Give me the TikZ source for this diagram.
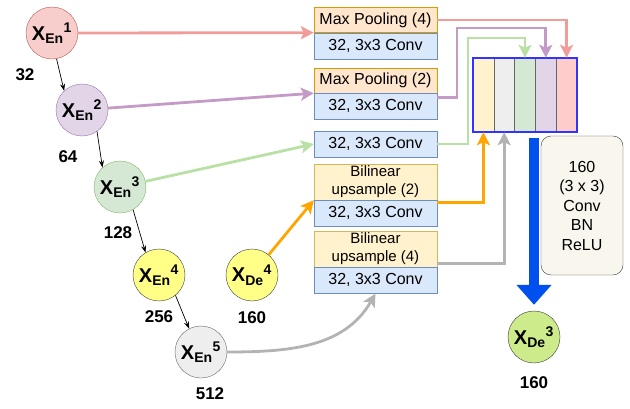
\documentclass[tikz,border=0pt]{standalone}
\usepackage{fontspec}
\setmainfont{Liberation Sans}
\usepackage{tikz}
\usetikzlibrary{arrows.meta,positioning}

\definecolor{pinkfill}{HTML}{F8CECC}
\definecolor{pinkdraw}{HTML}{B85450}
\definecolor{pinkline}{HTML}{F19C99}
\definecolor{purplefill}{HTML}{E1D5E7}
\definecolor{purpledraw}{HTML}{9673A6}
\definecolor{purpleline}{HTML}{C39BC6}
\definecolor{greenfill}{HTML}{D5E8D4}
\definecolor{greendraw}{HTML}{82B366}
\definecolor{greenline}{HTML}{B9E0A5}
\definecolor{yellowfill}{HTML}{FFFF88}
\definecolor{greyfill}{HTML}{EEEEEE}
\definecolor{greydraw}{HTML}{666666}
\definecolor{greyline}{HTML}{B3B3B3}
\definecolor{orangeline}{HTML}{FFA500}
\definecolor{limefill}{HTML}{CDEB8B}
\definecolor{darkdraw}{HTML}{36393D}
\definecolor{convfill}{HTML}{DAE8FC}
\definecolor{convdraw}{HTML}{6C8EBF}
\definecolor{poolfill}{HTML}{FFE6CC}
\definecolor{pooldraw}{HTML}{D79B00}
\definecolor{upfill}{HTML}{FFF2CC}
\definecolor{updraw}{HTML}{D6B656}
\definecolor{catblue}{HTML}{3333FF}
\definecolor{bigblue}{HTML}{0050EF}
\definecolor{notefill}{HTML}{F9F7ED}
\definecolor{stripe1}{HTML}{FFF2CC}
\definecolor{stripe2}{HTML}{EEEEEE}
\definecolor{stripe3}{HTML}{D5E8D4}
\definecolor{stripe4}{HTML}{E1D5E7}
\definecolor{stripe5}{HTML}{FFCCCC}

\newcommand{\xname}[2]{\textbf{X\textsubscript{#1}\textsuperscript{#2}}}

\begin{document}
\begin{tikzpicture}[x=1pt,y=1pt,>={Stealth[length=13pt,width=13pt,inset=3pt]},
                    feat node/.style={circle,draw,minimum size=52pt,inner sep=0pt,font=\fontsize{20}{22}\selectfont},
                    dim label/.style={font=\fontsize{17}{19}\selectfont\bfseries},
                    op box/.style={draw,minimum width=123pt,inner sep=0pt,font=\fontsize{16}{18}\selectfont},
                    conv box/.style={op box,fill=convfill,draw=convdraw,minimum height=26pt},
                    pool box/.style={op box,fill=poolfill,draw=pooldraw,minimum height=25pt},
                    up box/.style={op box,fill=upfill,draw=updraw,minimum height=36pt,align=center,
                                   font=\fontsize{15}{18}\selectfont},
                    skip/.style={->,line width=2.8pt},
                    stripe/.style={draw=greydraw,minimum width=20.8pt,minimum height=74pt,inner sep=0pt}]

  \useasboundingbox (0,0) rectangle (630,408);

  % encoder / decoder features
  \node[feat node,fill=pinkfill,draw=pinkdraw] (en1) at (52,375) {\xname{En}{1}};
  \node[feat node,fill=purplefill,draw=purpledraw] (en2) at (82,298) {\xname{En}{2}};
  \node[feat node,fill=greenfill,draw=greendraw] (en3) at (120,221) {\xname{En}{3}};
  \node[feat node,fill=yellowfill,draw=darkdraw] (en4) at (159,133) {\xname{En}{4}};
  \node[feat node,fill=greyfill,draw=greydraw] (en5) at (201,56) {\xname{En}{5}};
  \node[feat node,fill=yellowfill,draw=darkdraw] (de4) at (252,133) {\xname{De}{4}};
  \node[feat node,fill=limefill,draw=darkdraw] (de3) at (534,71) {\xname{De}{3}};

  \node[dim label] (d1) at (25,333) {32};
  \node[dim label] (d2) at (68,251) {64};
  \node[dim label] (d3) at (118,175) {128};
  \node[dim label] (d4) at (159,91) {256};
  \node[dim label] (d5) at (210,14) {512};
  \node[dim label] (d6) at (252,90) {160};
  \node[dim label] (d7) at (534,25) {160};

  % operation boxes
  \node[pool box] (mp4) at (375.5,388) {Max Pooling (4)};
  \node[conv box] (cv4) [below=0pt of mp4] {32, 3x3 Conv};
  \node[pool box] (mp2) at (375.5,327.5) {Max Pooling (2)};
  \node[conv box] (cv2) [below=0pt of mp2] {32, 3x3 Conv};
  \node[conv box] (cv3) at (375.5,264) {32, 3x3 Conv};
  \node[up box] (up2) at (375.5,226) {Bilinear\\upsample (2)};
  \node[conv box] (cvu2) [below=0pt of up2] {32, 3x3 Conv};
  \node[up box] (up4) at (375.5,159) {Bilinear\\upsample (4)};
  \node[conv box] (cvu4) [below=0pt of up4] {32, 3x3 Conv};

  % concatenation block
  \foreach \c [count=\i] in {stripe1,stripe2,stripe3,stripe4,stripe5}
    \node[stripe,fill=\c] (c\i) at (462.6+20.8*\i,313) {};
  \node[draw=catblue,line width=2.5pt,minimum width=104pt,minimum height=74pt,inner sep=0pt] (cat) at (525,313) {};

  \node[draw=darkdraw,fill=notefill,rounded corners=10pt,minimum width=82pt,minimum height=139pt,
        align=center,font=\fontsize{16}{19.5}\selectfont] (note) at (582,202.5) {160\\(3 x 3)\\Conv\\BN\\ReLU};

  % encoder path
  \path[->,>={Stealth[length=7pt,width=5pt]},line width=0.7pt]
    (en1.-80) edge (en2.133)
    (en2.-55) edge (en3.132)
    (en3.-60) edge (en4.121)
    (en4.-51) edge (en5.117);

  % skip connections
  \draw[skip,pinkline] (en1) -- (mp4.south west);
  \draw[skip,purpleline] (en2) -- (mp2.south west);
  \draw[skip,greenline] (en3) -- (cv3.west);
  \draw[skip,orangeline] (de4) -- (up2.south west);
  \draw[skip,greyline] (en5) to[out=0,in=-120] (cvu4.south);

  \draw[skip,pinkline] (mp4.east) -| (c5.north);
  \draw[skip,purpleline] ([yshift=-4pt]mp2.south east) -| (457,380) -| (c4.north);
  \draw[skip,greenline] (cv3.east) -| (468,370) -| (c3.north);
  \draw[skip,orangeline] ([yshift=-2pt]up2.south east) -| (c1.south);
  \draw[skip,greyline] ([yshift=4pt]up4.south east) -| (c2.south);

  \draw[bigblue,line width=10pt,-{Triangle[width=34pt,length=20pt]}]
    ([yshift=-5pt]cat.south -| de3.north) -- ([yshift=6pt]de3.north);

\end{tikzpicture}
\end{document}
